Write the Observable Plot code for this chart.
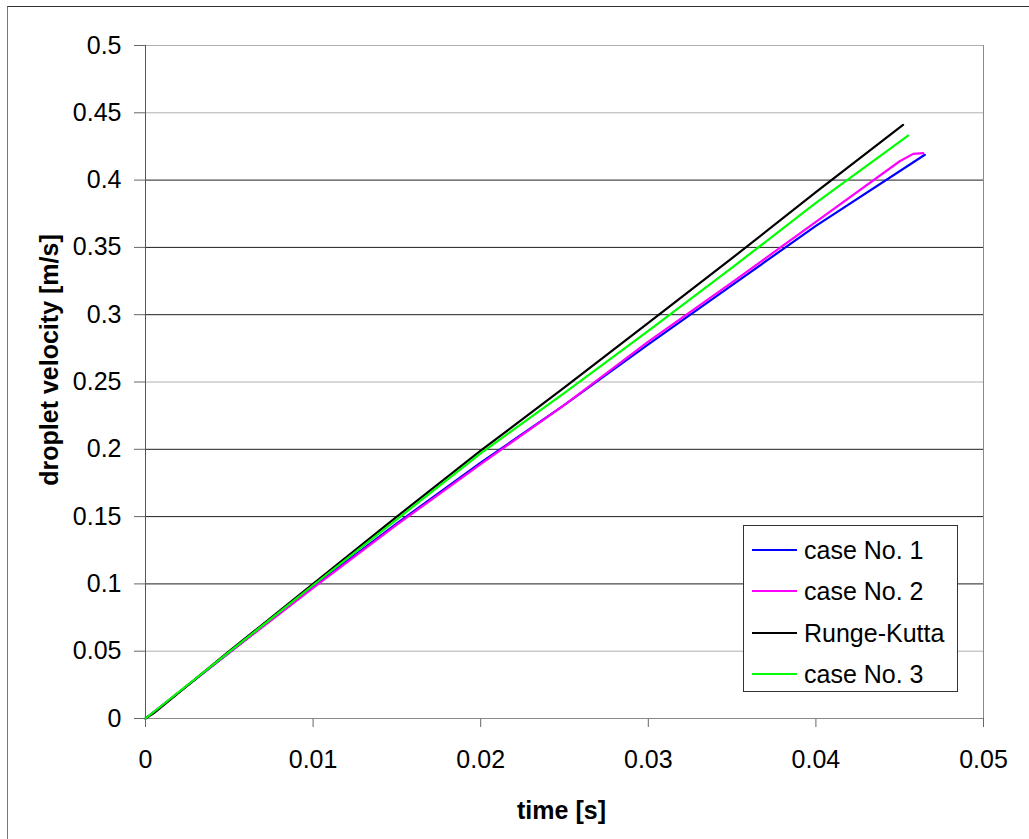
<!DOCTYPE html>
<html>
<head>
<meta charset="utf-8">
<script src="https://cdn.jsdelivr.net/npm/d3@7"></script>
<script src="https://cdn.jsdelivr.net/npm/@observablehq/plot@0.6"></script>
<style>
  html, body { margin: 0; padding: 0; background: #fff; }
  #wrap { position: relative; width: 1029px; height: 839px; overflow: hidden; font-family: "Liberation Sans", Arial, sans-serif; }
  #border { position: absolute; left: 7px; top: 6px; right: 0; bottom: 0; border-left: 1px solid #777; border-top: 1px solid #333; pointer-events: none; }
  #legend { position: absolute; left: 743px; top: 525px; width: 213px; height: 165px; border: 1px solid #333; background: #fff; }
  .row { position: absolute; left: 0; height: 30px; display: flex; align-items: center; font-size: 25px; color: #000; }
  .row svg { margin-left: 8px; margin-right: 7px; display: block; }
</style>
</head>
<body>
<div id="wrap"><div id="border"></div></div>
<script>
// ---- data ----
const seriesNames = ["case No. 1", "case No. 2", "Runge-Kutta", "case No. 3"];
const seriesColors = ["#0000ff", "#ff00ff", "#000000", "#00ff00"];

const tCase1 = [0, 0.005, 0.01, 0.015, 0.02, 0.025, 0.03, 0.035, 0.04, 0.0465];
const vCase1 = [0, 0.049, 0.098, 0.145, 0.190, 0.233, 0.278, 0.322, 0.366, 0.4188];

const tCase2 = [0, 0.005, 0.01, 0.015, 0.02, 0.025, 0.03, 0.035, 0.04, 0.045, 0.0458, 0.0464];
const vCase2 = [0, 0.049, 0.097, 0.144, 0.189, 0.233, 0.280, 0.324, 0.369, 0.414, 0.4195, 0.420];

const tRK = [0, 0.0005, 0.005, 0.01, 0.015, 0.02, 0.025, 0.03, 0.035, 0.04, 0.0452];
const vRK = [0, 0.004, 0.050, 0.100, 0.150, 0.199, 0.246, 0.294, 0.342, 0.391, 0.441];

const tCase3 = [0, 0.005, 0.01, 0.015, 0.02, 0.025, 0.03, 0.035, 0.04, 0.0455];
const vCase3 = [0, 0.0495, 0.099, 0.148, 0.197, 0.242, 0.288, 0.335, 0.383, 0.433];

const xTicks = [0, 0.01, 0.02, 0.03, 0.04, 0.05];
const yTicks = [0, 0.05, 0.1, 0.15, 0.2, 0.25, 0.3, 0.35, 0.4, 0.45, 0.5];

const xTitle = "time [s]";
const yTitle = "droplet velocity [m/s]";

// ---- build table ----
const seriesT = [tCase1, tCase2, tRK, tCase3];
const seriesV = [vCase1, vCase2, vRK, vCase3];
const rows = [];
seriesNames.forEach((name, i) => {
  seriesT[i].forEach((t, j) => rows.push({series: name, t, v: seriesV[i][j]}));
});

const lightGrid = new Set([0.05, 0.25, 0.45, 0.5]);

const chart = Plot.plot({
  width: 1029,
  height: 839,
  marginLeft: 145,
  marginRight: 46,
  marginTop: 45,
  marginBottom: 121,
  style: {fontFamily: "'Liberation Sans', Arial, sans-serif", fontSize: "25px", color: "#000", background: "transparent", overflow: "visible"},
  x: {domain: [0, 0.05]},
  y: {domain: [0, 0.5]},
  color: {domain: seriesNames, range: seriesColors},
  marks: [
    Plot.ruleY(yTicks.filter(d => d > 0), {stroke: d => lightGrid.has(d) ? "#b0b0b0" : "#1e1e1e", strokeWidth: 1}),
    Plot.ruleX([0.05], {stroke: "#8a8a8a"}),
    Plot.axisY({ticks: yTicks, tickSize: 11, tickPadding: 13, tickFormat: d => String(d), label: null, stroke: "#666", fontSize: 25}),
    Plot.axisX({ticks: xTicks, tickSize: 9, tickPadding: 23, tickFormat: d => String(d), label: null, stroke: "#666", fontSize: 25}),
    Plot.ruleX([0], {stroke: "#555"}),
    Plot.ruleY([0], {stroke: "#888"}),
    Plot.line(rows, {x: "t", y: "v", z: "series", stroke: "series", strokeWidth: 2.2}),
    Plot.text([xTitle], {frameAnchor: "bottom", lineAnchor: "middle", textAnchor: "middle", dx: -3, dy: 92, fontWeight: "bold", fontSize: 25}),
    Plot.text([yTitle], {frameAnchor: "left", lineAnchor: "middle", textAnchor: "middle", rotate: -90, dx: -96, dy: -22, fontWeight: "bold", fontSize: 25})
  ]
});

const wrap = document.getElementById("wrap");
chart.style.position = "absolute";
chart.style.left = "0";
chart.style.top = "0";
wrap.insertBefore(chart, wrap.firstChild);

// legend
const legend = document.createElement("div");
legend.id = "legend";
const rowTops = [9, 50, 92, 133];
seriesNames.forEach((name, i) => {
  const row = document.createElement("div");
  row.className = "row";
  row.style.top = rowTops[i] + "px";
  const sw = d3.create("svg").attr("width", 45).attr("height", 4);
  sw.append("line").attr("x1", 0).attr("x2", 45).attr("y1", 2).attr("y2", 2)
    .attr("stroke", seriesColors[i]).attr("stroke-width", 2);
  const label = document.createElement("span");
  label.textContent = name;
  row.appendChild(sw.node());
  row.appendChild(label);
  legend.appendChild(row);
});
wrap.appendChild(legend);
</script>
</body>
</html>
